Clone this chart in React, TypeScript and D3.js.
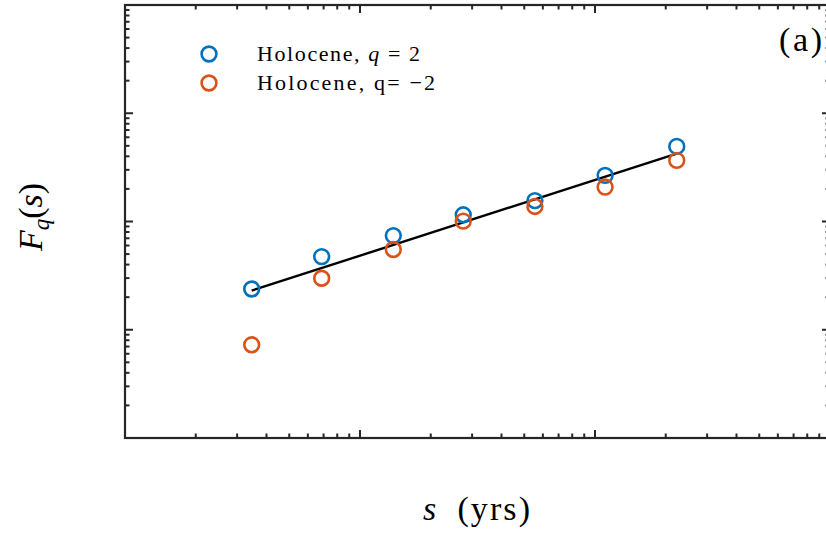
import { useEffect, useRef } from "react";
import * as d3 from "d3";

// scale s (yrs)
const scales = [34.6, 68.7, 138.6, 275, 555, 1104, 2228];
// F_q(s) for q = 2
const fqPos = [0.0238, 0.0474, 0.0741, 0.1153, 0.156, 0.267, 0.494];
// F_q(s) for q = -2
const fqNeg = [0.00726, 0.0299, 0.0551, 0.1007, 0.1377, 0.208, 0.367];
// fitted line endpoints
const fitS = [34.6, 2228];
const fitF = [0.023, 0.424];

const seriesNames = ["Holocene, ", "Holocene, q= \u22122"];
const colors = ["#0072BD", "#D95319"];

function App() {
  const ref = useRef<SVGSVGElement>(null);

  useEffect(() => {
    const width = 826;
    const height = 536;
    const margin = { left: 125, top: 5, right: -4, bottom: 98 };
    const inner = {
      width: width - margin.left - margin.right,
      height: height - margin.top - margin.bottom,
    };

    const svg = d3.select(ref.current);
    svg.selectAll("*").remove();

    const x = d3.scaleLog().domain([10, 10000]).range([0, inner.width]);
    const y = d3.scaleLog().domain([0.001, 10]).range([inner.height, 0]);

    const chart = svg
      .append("g")
      .attr("transform", `translate(${margin.left}, ${margin.top})`);

    const axisColor = "#262626";
    const xt = x.ticks();
    const yt = y.ticks();
    const isMajor = (v: number) =>
      Math.abs(Math.log10(v) - Math.round(Math.log10(v))) < 1e-6;

    // ticks (inside, mirrored)
    xt.forEach((v) => {
      const len = isMajor(v) ? 8 : 4.5;
      const px = x(v);
      chart.append("line").attr("x1", px).attr("x2", px)
        .attr("y1", inner.height).attr("y2", inner.height - len)
        .attr("stroke", axisColor).attr("stroke-width", 2);
      chart.append("line").attr("x1", px).attr("x2", px)
        .attr("y1", 0).attr("y2", len)
        .attr("stroke", axisColor).attr("stroke-width", 2);
    });
    yt.forEach((v) => {
      const len = isMajor(v) ? 8 : 4.5;
      const py = y(v);
      chart.append("line").attr("x1", 0).attr("x2", len)
        .attr("y1", py).attr("y2", py)
        .attr("stroke", axisColor).attr("stroke-width", 2);
      chart.append("line").attr("x1", inner.width).attr("x2", inner.width - len)
        .attr("y1", py).attr("y2", py)
        .attr("stroke", axisColor).attr("stroke-width", 2);
    });

    // frame
    chart.append("rect")
      .attr("width", inner.width).attr("height", inner.height)
      .attr("fill", "none").attr("stroke", axisColor).attr("stroke-width", 2.2);

    // fit line
    chart.append("path")
      .datum(fitS.map((s, i) => [s, fitF[i]] as [number, number]))
      .attr("d", d3.line().x((d) => x(d[0])).y((d) => y(d[1])))
      .attr("stroke", "#000").attr("stroke-width", 2.4).attr("fill", "none");

    // data markers
    [fqPos, fqNeg].forEach((vals, k) => {
      chart.selectAll(null)
        .data(vals)
        .enter()
        .append("circle")
        .attr("cx", (_, i) => x(scales[i]))
        .attr("cy", (d) => y(d))
        .attr("r", 7.4)
        .attr("fill", "none")
        .attr("stroke", colors[k])
        .attr("stroke-width", 2.6);
    });

    const serif = "'Liberation Serif', 'DejaVu Serif', serif";

    // legend
    const legend = svg.append("g");
    [0, 1].forEach((k) => {
      const ly = 54 + k * 29;
      legend.append("circle")
        .attr("cx", 209).attr("cy", ly).attr("r", 7.4)
        .attr("fill", "none").attr("stroke", colors[k]).attr("stroke-width", 2.6);
      const t = legend.append("text")
        .attr("x", 257).attr("y", ly + 7)
        .attr("font-family", serif).attr("font-size", 22).attr("fill", "#000")
        .attr("textLength", k === 0 ? 163 : 178)
        .attr("lengthAdjust", "spacing");
      if (k === 0) {
        t.append("tspan").text(seriesNames[0]);
        t.append("tspan").attr("font-style", "italic").text("q");
        t.append("tspan").text(" = 2");
      } else {
        t.text(seriesNames[1]);
      }
    });

    // panel label
    svg.append("text")
      .attr("x", 779).attr("y", 51)
      .attr("font-family", serif).attr("font-size", 34)
      .attr("textLength", 43).attr("lengthAdjust", "spacing")
      .text("(a)");

    // x label
    const xl = svg.append("text")
      .attr("x", 423).attr("y", 520)
      .attr("font-family", serif).attr("font-size", 34)
      .attr("textLength", 107).attr("lengthAdjust", "spacing");
    xl.append("tspan").attr("font-style", "italic").text("s");
    xl.append("tspan").text("\u2002(yrs)");

    // y label
    const yl = svg.append("text")
      .attr("transform", "translate(42, 217) rotate(-90)")
      .attr("text-anchor", "middle")
      .attr("font-family", serif).attr("font-size", 34);
    yl.append("tspan").attr("font-style", "italic").text("F");
    yl.append("tspan").attr("font-style", "italic").attr("font-size", 23).attr("dy", 7).text("q");
    yl.append("tspan").attr("dy", -7).text("(");
    yl.append("tspan").attr("font-style", "italic").text("s");
    yl.append("tspan").text(")");
  }, []);

  return (
    <svg
      ref={ref}
      width={826}
      height={536}
      style={{ position: "absolute", left: 0, top: 0, background: "#fff" }}
    />
  );
}

export default App;
